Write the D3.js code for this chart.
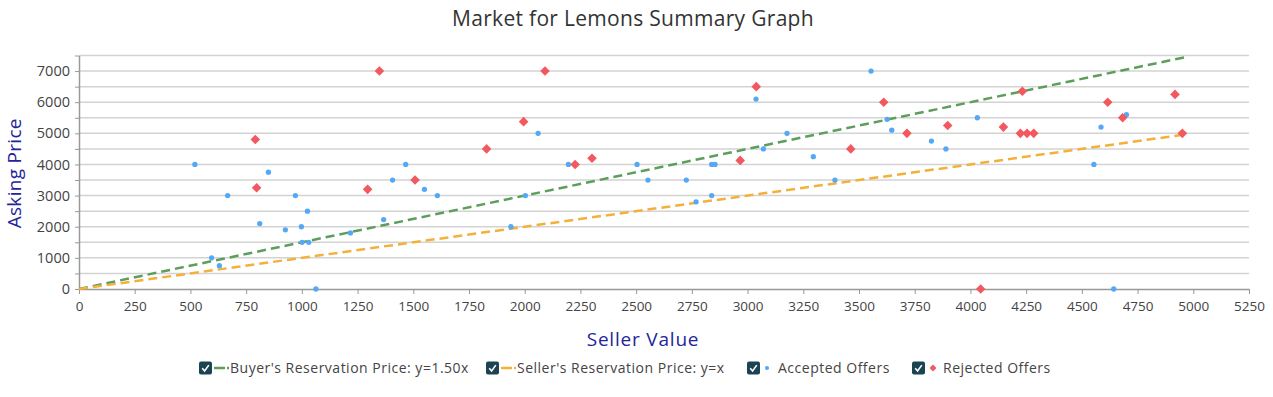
<!DOCTYPE html>
<html>
<head>
<meta charset="utf-8">
<script src="https://cdn.jsdelivr.net/npm/d3@7"></script>
<style>
  body { margin: 0; background: #fff; }
  svg { font-family: "Open Sans", Lato, sans-serif; }
</style>
</head>
<body>
<script>
// seller value / asking price pairs
const acceptedX = [520, 595, 630, 667, 850, 811, 926, 971, 998, 1025, 1001, 1031, 1063, 1218, 1367, 1407, 1466, 1550,
  1608, 1938, 2003, 2060, 2196, 2504, 2553, 2725, 2769, 2839, 2839, 2854, 3038, 3071, 3177, 3295, 3392,
  3554, 3626, 3647, 3825, 3890, 4031, 4554, 4586, 4643, 4700];
const acceptedY = [4000, 1000, 750, 3000, 3750, 2100, 1900, 3000, 2000, 2500, 1500, 1500, 0, 1800, 2230, 3500, 4000, 3200,
  3000, 2000, 3000, 5000, 4000, 4000, 3500, 3500, 2800, 3000, 4000, 4000, 6100, 4500, 5000, 4250, 3500,
  7000, 5450, 5100, 4750, 4500, 5500, 4000, 5200, 0, 5600];
const rejectedX = [791, 797, 1295, 1348, 1508, 1829, 1995, 2091, 2226, 2302, 2967, 3039, 3463,
  3611, 3715, 3898, 4046, 4148, 4224, 4254, 4284, 4233, 4616, 4683, 4918, 4951];
const rejectedY = [4800, 3250, 3200, 7000, 3500, 4500, 5375, 7000, 4000, 4200, 4130, 6500, 4500,
  6000, 5000, 5250, 0, 5200, 5000, 5000, 5000, 6350, 6000, 5500, 6250, 5000];

const buyerSlope = 1.5;
const sellerSlope = 1;
const lineEnd = 4960;

const xTicks = d3.range(0, 5251, 250);
const yTicks = d3.range(0, 7501, 500);

const legendItems = [
  { label: "Buyer's Reservation Price: y=1.50x", kind: "line", color: "#5c9e5c", x: 199 },
  { label: "Seller's Reservation Price: y=x", kind: "line", color: "#f3b03a", x: 486 },
  { label: "Accepted Offers", kind: "dot", color: "#55a8f6", x: 747 },
  { label: "Rejected Offers", kind: "diamond", color: "#f4585f", x: 912 },
];

const width = 1273, height = 397;
const margin = { top: 55.5, right: 24, bottom: 108, left: 79 };

const svg = d3.select("body").append("svg")
  .attr("width", width)
  .attr("height", height);

const x = d3.scaleLinear().domain([0, 5250]).range([margin.left, width - margin.right]);
const y = d3.scaleLinear().domain([0, 7500]).range([height - margin.bottom, margin.top]);

svg.append("text")
  .attr("x", 633)
  .attr("y", 26)
  .attr("text-anchor", "middle")
  .attr("font-size", 21)
  .attr("letter-spacing", 0.3)
  .attr("fill", "#333")
  .text("Market for Lemons Summary Graph");

// grid
svg.append("g")
  .selectAll("line")
  .data(yTicks.filter((d) => d > 0))
  .join("line")
  .attr("x1", x(0))
  .attr("x2", x(5250))
  .attr("y1", (d) => y(d))
  .attr("y2", (d) => y(d))
  .attr("stroke", "#d3d3d3")
  .attr("stroke-width", 1.5);

svg.append("g")
  .attr("transform", `translate(0,${y(0)})`)
  .call(d3.axisBottom(x).tickValues(xTicks).tickSize(5).tickPadding(7).tickSizeOuter(0).tickFormat((d) => d))
  .call((g) => g.select(".domain").attr("stroke", "#999").attr("stroke-width", 1.5))
  .call((g) => g.selectAll(".tick line").attr("stroke", "#999"))
  .call((g) => g.selectAll("text").attr("font-size", 13.5).attr("fill", "#444").attr("font-family", "'Open Sans', sans-serif"));

svg.append("g")
  .attr("transform", `translate(${x(0)},0)`)
  .call(d3.axisLeft(y).tickValues(yTicks).tickSize(4).tickPadding(5).tickSizeOuter(0)
    .tickFormat((d) => (d % 1000 === 0 ? d : "")))
  .call((g) => g.select(".domain").attr("stroke", "#999").attr("stroke-width", 1.5))
  .call((g) => g.selectAll(".tick line").attr("stroke", "#999"))
  .call((g) => g.selectAll("text").attr("font-size", 14.5).attr("fill", "#444").attr("font-family", "'Open Sans', sans-serif"));

svg.append("text")
  .attr("transform", `translate(21,${(y(0) + y(7500)) / 2 + 1}) rotate(-90)`)
  .attr("text-anchor", "middle")
  .attr("font-size", 19)
  .attr("letter-spacing", 0.3)
  .attr("fill", "#25259a")
  .text("Asking Price");

svg.append("text")
  .attr("x", 643)
  .attr("y", 346)
  .attr("text-anchor", "middle")
  .attr("font-size", 19)
  .attr("letter-spacing", 0.8)
  .attr("fill", "#25259a")
  .text("Seller Value");

// reservation price lines
const lines = [
  { slope: buyerSlope, color: legendItems[0].color },
  { slope: sellerSlope, color: legendItems[1].color },
];
svg.append("g")
  .selectAll("line")
  .data(lines)
  .join("line")
  .attr("x1", x(0))
  .attr("y1", y(0))
  .attr("x2", x(lineEnd))
  .attr("y2", (d) => y(d.slope * lineEnd))
  .attr("stroke", (d) => d.color)
  .attr("stroke-width", 2.5)
  .attr("stroke-dasharray", "9,5");

const accepted = acceptedX.map((v, i) => [v, acceptedY[i]]);
const rejected = rejectedX.map((v, i) => [v, rejectedY[i]]);

svg.append("g")
  .selectAll("path")
  .data(accepted)
  .join("path")
  .attr("transform", (d) => `translate(${x(d[0])},${y(d[1])})`)
  .attr("d", d3.symbol(d3.symbolCircle, 22))
  .attr("fill", legendItems[2].color);

svg.append("g")
  .selectAll("path")
  .data(rejected)
  .join("path")
  .attr("transform", (d) => `translate(${x(d[0])},${y(d[1])}) rotate(45)`)
  .attr("d", d3.symbol(d3.symbolSquare, 46))
  .attr("fill", legendItems[3].color);

// legend
const legend = svg.append("g")
  .selectAll("g")
  .data(legendItems)
  .join("g")
  .attr("transform", (d) => `translate(${d.x},368)`);

legend.append("rect")
  .attr("x", 0).attr("y", -6.5)
  .attr("width", 13).attr("height", 13)
  .attr("rx", 2)
  .attr("fill", "#1b4352");
legend.append("path")
  .attr("d", "M3.2,6.8 L5.6,9.4 L9.8,3.6")
  .attr("transform", "translate(0,-6.5)")
  .attr("fill", "none")
  .attr("stroke", "#fff")
  .attr("stroke-width", 1.6);

legend.filter((d) => d.kind === "line").append("line")
  .attr("x1", 15).attr("x2", 30)
  .attr("stroke", (d) => d.color)
  .attr("stroke-width", 2.5)
  .attr("stroke-dasharray", "11,2");
legend.filter((d) => d.kind === "dot").append("path")
  .attr("transform", "translate(20,0)")
  .attr("d", d3.symbol(d3.symbolCircle, 14))
  .attr("fill", (d) => d.color);
legend.filter((d) => d.kind === "diamond").append("path")
  .attr("transform", "translate(21,0) rotate(45)")
  .attr("d", d3.symbol(d3.symbolSquare, 24))
  .attr("fill", (d) => d.color);

legend.append("text")
  .attr("x", 31)
  .attr("dy", "0.35em")
  .attr("font-size", 14)
  .attr("letter-spacing", 0.5)
  .attr("fill", "#444")
  .text((d) => d.label);
</script>
</body>
</html>
